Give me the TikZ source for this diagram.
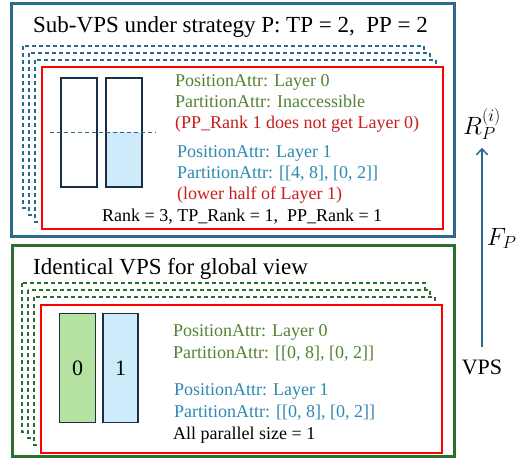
\documentclass[tikz,border=0pt]{standalone}
\usepackage{fix-cm}
\usepackage{fontspec}
\setmainfont{Liberation Serif}
\usetikzlibrary{arrows.meta}

\definecolor{stratblue}{HTML}{2B6A8D}
\definecolor{globalgreen}{HTML}{2A6F2F}
\definecolor{attrgreen}{HTML}{548235}
\definecolor{attrblue}{HTML}{2E88B4}
\definecolor{notered}{HTML}{C81E1E}
\definecolor{barline}{HTML}{1C2E44}
\definecolor{barblue}{HTML}{CDEBFA}
\definecolor{bargreen}{HTML}{B4E3A1}

\tikzset{
  outer box/.style={line width=3pt},                 % the two big frames
  stack box/.style={fill=white, dash pattern=on 4pt off 3pt, line width=1.2pt},
  rank box/.style={fill=white, draw=red, line width=2pt},
  layer bar/.style={draw=barline, line width=1.6pt, minimum width=36pt, minimum height=109pt, inner sep=0pt},
  attr text/.style={anchor=base west, inner sep=0pt, font=\fontsize{18}{21}\selectfont},
  big text/.style={anchor=base west, inner sep=0pt, font=\fontsize{23}{27}\selectfont},
  flow arrow/.style={-{Straight Barb[length=6pt,width=11pt]}, draw=stratblue, line width=1.5pt}
}

\begin{document}
\begin{tikzpicture}[x=1pt, y=-1pt]
    \useasboundingbox (0,0) rectangle (527,458);

    % Sub-VPS frame (top)
    \draw[outer box, stratblue] (11,3) rectangle (454,236);
    \node[big text] (subtitle) at (33,32) {Sub-VPS under strategy P: TP = 2,~ PP = 2};

    % stacked ranks behind the shown one
    \draw[stack box, draw=stratblue] (23,46) rectangle (424,208);
    \draw[stack box, draw=stratblue] (29,53) rectangle (430,215);
    \draw[stack box, draw=stratblue] (35,60) rectangle (436,222);
    \draw[rank box] (42,67) rectangle (443,229);

    % layers of the sub-VPS
    \fill[barblue] (106,132) rectangle (142,187);
    \node[layer bar] (sub0) at (79,132.5) {};
    \node[layer bar] (sub1) at (124,132.5) {};
    \draw[stratblue, line width=1pt, dash pattern=on 4pt off 3pt] (50,132) -- (156,132);

    % attributes of the sub-VPS
    \node[attr text, text=attrgreen] (subpos0) at (175,86) {PositionAttr: Layer 0};
    \node[attr text, text=attrgreen] (subpart0) at (175,107) {PartitionAttr: Inaccessible};
    \node[attr text, text=notered] (subnote0) at (175,128) {(PP\_Rank 1 does not get Layer 0)};
    \node[attr text, text=attrblue] (subpos1) at (177,157) {PositionAttr: Layer 1};
    \node[attr text, text=attrblue] (subpart1) at (177,178) {PartitionAttr: [[4, 8], [0, 2]]};
    \node[attr text, text=notered] (subnote1) at (177,199.5) {(lower half of Layer 1)};
    \node[attr text] (subrank) at (102,221) {Rank = 3, TP\_Rank = 1,~ PP\_Rank = 1};

    % global VPS frame (bottom)
    \draw[outer box, globalgreen] (12,245) rectangle (454,456);
    \node[big text] (globtitle) at (33,274) {Identical VPS for global view};

    \draw[stack box, draw=globalgreen] (22,283) rectangle (425,432);
    \draw[stack box, draw=globalgreen] (28,290) rectangle (430,438);
    \draw[stack box, draw=globalgreen] (34,297) rectangle (435,445);
    \draw[rank box] (41,305) rectangle (442,453);

    % layers of the global VPS
    \node[layer bar, fill=bargreen, font=\fontsize{22}{26}\selectfont] (glob0) at (77.5,368) {0};
    \node[layer bar, fill=barblue, minimum width=35pt, font=\fontsize{22}{26}\selectfont] (glob1) at (120.5,368) {1};

    % attributes of the global VPS
    \node[attr text, text=attrgreen] (globpos0) at (173,336) {PositionAttr: Layer 0};
    \node[attr text, text=attrgreen] (globpart0) at (173,358) {PartitionAttr: [[0, 8], [0, 2]]};
    \node[attr text, text=attrblue] (globpos1) at (174,395) {PositionAttr: Layer 1};
    \node[attr text, text=attrblue] (globpart1) at (174,417) {PartitionAttr: [[0, 8], [0, 2]]};
    \node[attr text] (globsize) at (173,439) {All parallel size = 1};

    % mapping VPS -> R_P^(i)
    \node[inner sep=0pt, font=\fontsize{22}{26}\selectfont] (vps) at (482,367) {VPS};
    \node[inner sep=0pt, font=\fontsize{25}{30}\selectfont] (rp) at (482,124) {$R_P^{(i)}$};
    \draw[flow arrow, shorten <=12pt, shorten >=8pt] (vps) -- node[pos=0.55, right=4pt, font=\fontsize{25}{30}\selectfont, inner sep=0pt] (fp) {$F_P$} (rp);
\end{tikzpicture}
\end{document}
